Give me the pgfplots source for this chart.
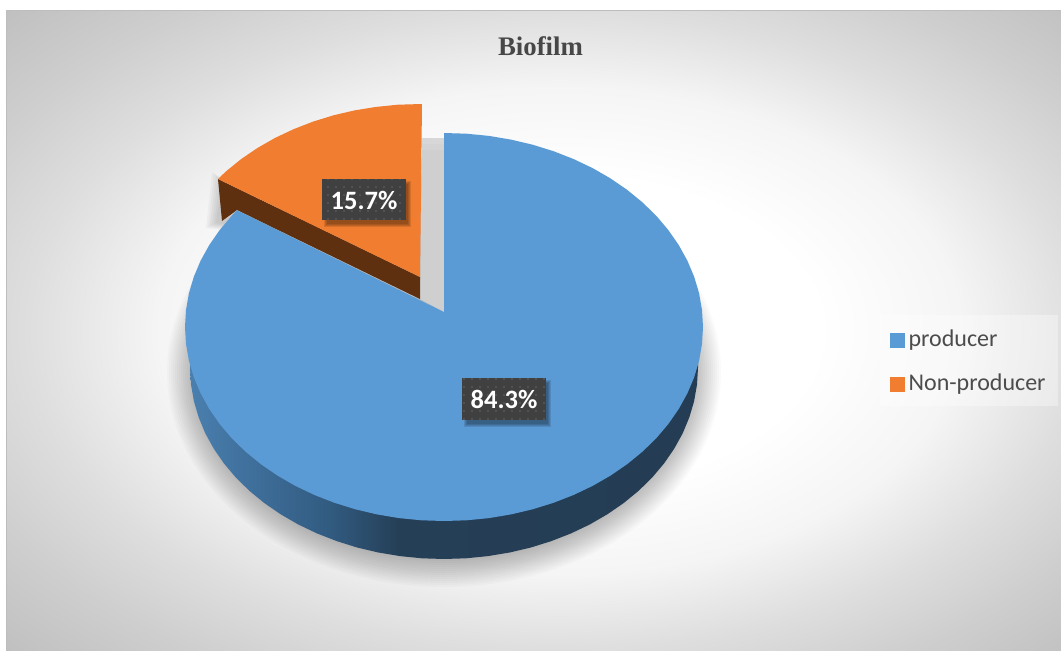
\documentclass[border=0pt]{standalone}
\usepackage{fontspec}
\setmainfont{Carlito}
\newfontfamily\titlefont{Liberation Serif}
\usepackage{pgfplots}
\pgfplotsset{compat=1.18}
\usetikzlibrary{patterns.meta}

\definecolor{pieblue}{HTML}{5B9BD5}
\definecolor{pieorange}{HTML}{F07D30}
\definecolor{piebrown}{HTML}{5F3010}
\definecolor{labelbox}{HTML}{404040}
\definecolor{labeldot}{HTML}{646464}
\definecolor{wallA}{HTML}{4A7FAE}
\definecolor{wallB}{HTML}{3F6F9B}
\definecolor{wallC}{HTML}{315A7F}
\definecolor{wallD}{HTML}{253F57}
\definecolor{wallE}{HTML}{233B51}

% page background: pale centre falling off to grey corners
\pgfdeclareradialshading{panelglow}{\pgfpoint{2bp}{0bp}}{
  color(0bp)=(white); color(12bp)=(white);
  color(19bp)=(white!96!black); color(25bp)=(white!87!black);
  color(30bp)=(white!81!black); color(36bp)=(white!75!black);
  color(50bp)=(white!75!black)}
% side wall of the large slice, dark towards the front
\pgfdeclarehorizontalshading{wallblue}{100bp}{
  color(0bp)=(wallA);
  color(25bp)=(wallA);
  color(31bp)=(wallB);
  color(39bp)=(wallC);
  color(45.5bp)=(wallD);
  color(100bp)=(wallE)}

\begin{document}
\begin{tikzpicture}
\begin{axis}[
  hide axis, scale only axis, width=1061pt, height=651pt,
  xmin=0, xmax=1061, ymin=0, ymax=651, y dir=reverse,
  legend style={at={(axis cs:886,322)}, anchor=north west, draw=none, fill=none,
    font=\fontsize{24}{26}\selectfont, text=black!70,
    row sep=25.5pt, inner ysep=8pt, inner xsep=4pt,
    nodes={inner xsep=4pt, inner ysep=0pt, anchor=base west}},
  legend cell align=left,
]
\path (axis cs:0,0) rectangle (axis cs:1061,651);
\shade[shading=panelglow] (axis cs:6,10.5) rectangle (axis cs:1061,651);
\draw[black!26, line width=1pt] (axis cs:6,651) -- (axis cs:6,10.5) -- (axis cs:1061,10.5);

% legend panel
\fill[white, opacity=0.35] (axis cs:880,315) rectangle (axis cs:1058,406);

% soft shadow of the disc on the background
\pgfplotsinvokeforeach{0,...,13}{
  \fill[black, opacity=0.018] (axis cs:444,372) ellipse [x radius={277-2*#1}, y radius={215-2*#1}];
}
% soft shadow of the pulled-out slice
\pgfplotsinvokeforeach{0,...,5}{
  \fill[black, opacity=0.03] (axis cs:{212+2*#1},{172+2*#1}) -- (axis cs:300,230) -- (axis cs:240,{232-1*#1}) -- (axis cs:{206+2*#1},{228-1*#1}) -- cycle;
}

\addlegendimage{legend image code/.code={\fill[pieblue] (0pt,-0.5pt) rectangle (14pt,13.5pt);}}
\addlegendentry{producer}
\addlegendimage{legend image code/.code={\fill[pieorange] (0pt,-0.5pt) rectangle (14pt,13.5pt);}}
\addlegendentry{Non-producer}

% gap left between the slices, lighter at its upper end
\addplot[forget plot, draw=none, fill=black!19] coordinates {
  (422,138) (444,138) (444,312) (420,299) (422,138)};
\fill[white, opacity=0.10] (axis cs:422,138) rectangle (axis cs:444,144);
\fill[white, opacity=0.10] (axis cs:422,138) rectangle (axis cs:444,150);

% small slice: wall and top face
\addplot[forget plot, draw=none, fill=piebrown] coordinates {
  (218,179) (420,277) (420,299) (237,210) (222,221) (218,179)};
\addplot[forget plot, draw=none, fill=pieorange] coordinates {
  (422,104) (397.9,104.7) (376.1,106.9) (354.5,110.4) (333.5,115.3) (313.1,121.6)
  (293.5,129.2) (274.9,138) (257.4,148.0) (241.1,159.1) (226.2,171.2)
  (218,179) (420,277) (422,104)};

% large slice: wall
\addplot[forget plot, draw=none, shading=wallblue] coordinates {
  (190,340) (190,368) (191,384.6) (193.9,401.2) (198.7,417.4) (205.3,433.3) (213.8,448.7)
  (224,463.5) (235.9,477.6) (249.4,490.8) (264.4,503.1) (280.7,514.3) (298.3,524.5)
  (317,533.4) (336.7,541.1) (357.1,547.5) (378.3,552.5) (399.9,556.1) (421.9,558.3)
  (444,559) (466.1,558.3) (488.1,556.1) (509.7,552.5) (530.9,547.5) (551.3,541.1)
  (571,533.4) (589.7,524.5) (607.3,514.3) (623.6,503.1) (638.6,490.8) (652.1,477.6)
  (664,463.5) (674.2,448.7) (682.7,433.3) (689.3,417.4) (694.1,401.2) (697,384.6)
  (698,368) (698,340) (190,340)};

% large slice: top face
\addplot[forget plot, draw=none, fill=pieblue] coordinates {
  (444,133) (466.6,133.7) (489.0,135.9) (511.0,139.6) (532.6,144.7) (553.5,151.2)
  (573.5,159.0) (592.6,168.1) (610.5,178.4) (627.1,189.8) (642.4,202.3) (656.2,215.7)
  (668.3,230) (678.7,245.0) (687.4,260.7) (694.2,276.8) (699.1,293.3) (702.0,310.1)
  (703,327) (702.0,343.9) (699.1,360.7) (694.2,377.2) (687.4,393.3) (678.7,409.0)
  (668.3,424) (656.2,438.3) (642.4,451.7) (627.1,464.2) (610.5,475.6) (592.6,485.9)
  (573.5,495) (553.5,502.8) (532.6,509.3) (511.0,514.4) (489.0,518.1) (466.6,520.3)
  (444,521) (421.4,520.3) (399.0,518.1) (377.0,514.4) (355.4,509.3) (334.5,502.8)
  (314.5,495) (295.4,485.9) (277.5,475.6) (260.9,464.2) (245.6,451.7) (231.8,438.3)
  (219.7,424) (209.3,409.0) (200.6,393.3) (193.8,377.2) (188.9,360.7) (186.0,343.9)
  (185,327) (186.0,310.1) (188.9,293.3) (193.8,276.8) (200.6,260.7) (209.3,245.0)
  (219.7,230) (231.8,215.7) (237,210.2) (444,312) (444,133)};

% value labels with their drop shadows
\pgfplotsinvokeforeach{0,1,2,3}{
  \fill[black, opacity=0.11] (axis cs:{467-#1},{383-#1}) rectangle (axis cs:{548+#1},{424+#1});
  \fill[black, opacity=0.11] (axis cs:{327-#1},{184-#1}) rectangle (axis cs:{408+#1},{224+#1});
}
\node[preaction={fill=labelbox}, pattern={Dots[distance=8pt, radius=0.9pt]}, pattern color=labeldot,
  minimum width=84pt, minimum height=42pt, inner sep=0pt]
  at (axis cs:504,399) {};
\node[preaction={fill=labelbox}, pattern={Dots[distance=8pt, radius=0.9pt]}, pattern color=labeldot,
  minimum width=84pt, minimum height=41pt, inner sep=0pt]
  at (axis cs:364,199.5) {};
\node[text=white, font=\bfseries\fontsize{26.5}{28}\selectfont] at (axis cs:504,399.5) {84.3\%};
\node[text=white, font=\bfseries\fontsize{26.5}{28}\selectfont] at (axis cs:364,200) {15.7\%};

% title
\node[text=black!72, font=\titlefont\bfseries\fontsize{26.8}{28}\selectfont] at (axis cs:540.5,46) {Biofilm};
\end{axis}
\end{tikzpicture}
\end{document}
